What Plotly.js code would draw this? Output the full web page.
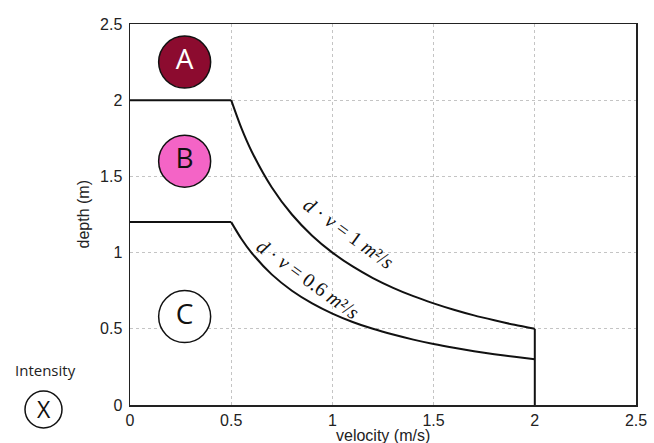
<!DOCTYPE html>
<html>
<head>
<meta charset="utf-8">
<script src="https://cdn.plot.ly/plotly-3.0.1.min.js"></script>
<style>html,body{margin:0;padding:0;background:#fff;}#chart{width:654px;height:443px;}</style>
</head>
<body>
<div id="chart"></div>
<script>
// Flat parts of the limits (v from 0 to 0.5 m/s)
const flatV = [0, 0.5];
const upperFlatD = [2, 2];
const lowerFlatD = [1.2, 1.2];
// Curved parts: d·v = 1 m²/s and d·v = 0.6 m²/s
const curveV = [0.5, 0.55, 0.6, 0.7, 0.8, 0.9, 1.0, 1.1, 1.2, 1.3, 1.4, 1.5, 1.6, 1.7, 1.8, 1.9, 2.0];
const upperCurveD = [2.0, 1.818, 1.667, 1.429, 1.25, 1.111, 1.0, 0.909, 0.833, 0.769, 0.714, 0.667, 0.625, 0.588, 0.556, 0.526, 0.5];
const lowerCurveD = [1.2, 1.091, 1.0, 0.857, 0.75, 0.667, 0.6, 0.545, 0.5, 0.462, 0.429, 0.4, 0.375, 0.353, 0.333, 0.316, 0.3];
// Vertical limit at v = 2 m/s
const vertV = [2, 2];
const vertD = [0.5, 0];
// Intensity classes
const classLabels = ['A', 'B', 'C'];
const classV = [0.27, 0.27, 0.27];
const classD = [2.25, 1.6, 0.58];
const classFill = ['#8c0b2f', '#f464c6', '#ffffff'];
const classText = ['#ffffff', '#111111', '#111111'];
const tickVals = [0, 0.5, 1, 1.5, 2, 2.5];
const tickText = ['0', '0.5', '1', '1.5', '2', '2.5'];

const lineStyle = {color: '#111', width: 2};
const splineStyle = {color: '#111', width: 2, shape: 'spline', smoothing: 0.8};
const traces = [
  {x: flatV, y: upperFlatD, mode: 'lines', line: lineStyle, hoverinfo: 'skip', showlegend: false},
  {x: curveV, y: upperCurveD, mode: 'lines', line: splineStyle, hoverinfo: 'skip', showlegend: false},
  {x: vertV, y: vertD, mode: 'lines', line: lineStyle, hoverinfo: 'skip', showlegend: false},
  {x: flatV, y: lowerFlatD, mode: 'lines', line: lineStyle, hoverinfo: 'skip', showlegend: false},
  {x: curveV, y: lowerCurveD, mode: 'lines', line: splineStyle, hoverinfo: 'skip', showlegend: false},
  {x: classV, y: classD, mode: 'markers+text', text: classLabels, textposition: 'middle center',
   textfont: {family: 'Open Sans, sans-serif', size: 28, color: classText},
   marker: {size: 52, color: classFill, line: {color: '#111', width: 1.5}}, hoverinfo: 'skip', showlegend: false, cliponaxis: false}
];

const axisCommon = {
  range: [0, 2.5], tickvals: tickVals, ticktext: tickText, ticks: '',
  showgrid: true, gridcolor: '#c4c4c4', griddash: 'dot', gridwidth: 1,
  zeroline: false, showline: true, linecolor: '#222', linewidth: 1.5, mirror: true,
  tickfont: {family: 'Liberation Sans, Arial, sans-serif', size: 16, color: '#222'},
  fixedrange: true
};

const layout = {
  width: 654, height: 443,
  margin: {l: 130, r: 18, t: 24, b: 38},
  paper_bgcolor: '#fff', plot_bgcolor: '#fff',
  xaxis: Object.assign({}, axisCommon, {ticklabelstandoff: 0}),
  yaxis: Object.assign({}, axisCommon, {ticklabelstandoff: 3}),
  shapes: [
    {type: 'circle', xref: 'paper', yref: 'paper', xsizemode: 'pixel', ysizemode: 'pixel',
     xanchor: 0, yanchor: 0, x0: -105, x1: -68, y0: -23, y1: 14, line: {color: '#111', width: 1.5}, fillcolor: '#fff'}
  ],
  annotations: [
    {text: 'velocity (m/s)', xref: 'paper', yref: 'paper', x: 0.5, y: 0, yshift: -30, xanchor: 'center', yanchor: 'middle', showarrow: false,
     font: {family: 'Liberation Sans, Arial, sans-serif', size: 16, color: '#222'}},
    {text: 'depth (m)', xref: 'paper', yref: 'paper', x: 0, y: 0.5, xshift: -47, xanchor: 'center', yanchor: 'middle', textangle: -90, showarrow: false,
     font: {family: 'Liberation Sans, Arial, sans-serif', size: 16, color: '#222'}},
    {text: 'Intensity', xref: 'paper', yref: 'paper', x: 0, y: 0, xshift: -85, yshift: 35, xanchor: 'center', yanchor: 'middle', showarrow: false,
     font: {family: 'Open Sans, sans-serif', size: 15, color: '#222'}},
    {text: 'X', xref: 'paper', yref: 'paper', x: 0, y: 0, xshift: -86, yshift: -4, xanchor: 'center', yanchor: 'middle', showarrow: false,
     font: {family: 'Open Sans, sans-serif', size: 23, color: '#111'}},
    {text: '<i>d</i> · <i>v</i> = 1 <i>m</i>²/<i>s</i>', x: 1.08, y: 1.13, textangle: 36, showarrow: false,
     font: {family: 'Liberation Serif, serif', size: 20, color: '#111'}},
    {text: '<i>d</i> · <i>v</i> = 0.6 <i>m</i>²/<i>s</i>', x: 0.88, y: 0.83, textangle: 36, showarrow: false,
     font: {family: 'Liberation Serif, serif', size: 20, color: '#111'}}
  ]
};

Plotly.newPlot('chart', traces, layout, {displayModeBar: false, staticPlot: true});
</script>
</body>
</html>
